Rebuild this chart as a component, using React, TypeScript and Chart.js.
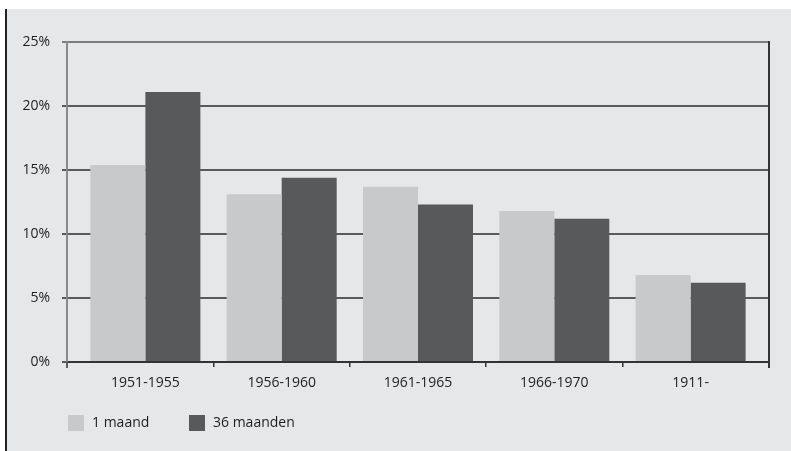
import React, { useEffect, useRef } from "react";
import { Chart, registerables } from "chart.js";

Chart.register(...registerables);

const categories = ["1951-1955", "1956-1960", "1961-1965", "1966-1970", "1911-"];
const series1Name = "1 maand";
const series2Name = "36 maanden";
const series1 = [15.4, 13.1, 13.7, 11.8, 6.8];
const series2 = [21.1, 14.4, 12.3, 11.2, 6.2];
const yTicks = [0, 5, 10, 15, 20, 25];

const LIGHT = "#c8c9cb";
const DARK = "#58595b";
const BG = "#e6e7e8";
const FONT = "'Open Sans', 'Noto Sans', sans-serif";
const EDGE = 0.075; // extra category padding at both ends of the x axis

const framePlugin = {
  id: "frame",
  beforeDraw(chart: any) {
    const ctx = chart.ctx;
    ctx.save();
    ctx.fillStyle = "#ffffff";
    ctx.fillRect(0, 0, chart.width, chart.height);
    ctx.fillStyle = BG;
    ctx.fillRect(7, 9, chart.width - 7, chart.height - 9);
    ctx.fillStyle = "#222222";
    ctx.fillRect(5, 9, 2, chart.height - 9);
    ctx.restore();
  },
  afterDraw(chart: any) {
    const ctx = chart.ctx;
    const a = chart.chartArea;
    ctx.save();
    ctx.strokeStyle = "#333333";
    ctx.lineWidth = 2;
    ctx.beginPath();
    ctx.moveTo(a.right, a.top - 1);
    ctx.lineTo(a.right, a.bottom + 6);
    ctx.stroke();
    ctx.lineWidth = 1.5;
    ctx.beginPath();
    ctx.moveTo(a.left, a.bottom);
    ctx.lineTo(a.left, a.bottom + 6);
    ctx.stroke();
    // legend
    const items = [
      { label: series1Name, color: LIGHT, x: 68 },
      { label: series2Name, color: DARK, x: 189 },
    ];
    ctx.font = `14px ${FONT}`;
    ctx.textBaseline = "middle";
    ctx.textAlign = "left";
    for (const it of items) {
      ctx.fillStyle = it.color;
      ctx.fillRect(it.x, 415, 16, 16);
      ctx.fillStyle = "#1e1e1e";
      ctx.fillText(it.label, it.x + 24, 423);
    }
    ctx.restore();
  },
};

export default function App() {
  const ref = useRef<HTMLCanvasElement>(null);
  useEffect(() => {
    document.body.style.margin = "0";
    const chart = new Chart(ref.current!, {
      type: "bar",
      data: {
        labels: categories,
        datasets: [
          { label: series1Name, data: series1, backgroundColor: LIGHT, categoryPercentage: 0.807, barPercentage: 1.0 },
          { label: series2Name, data: series2, backgroundColor: DARK, categoryPercentage: 0.807, barPercentage: 1.0 },
        ],
      },
      options: {
        animation: false,
        responsive: false,
        maintainAspectRatio: false,
        layout: { padding: { left: 7, right: 22, top: 42, bottom: 49 } },
        plugins: { legend: { display: false }, tooltip: { enabled: false } },
        scales: {
          x: {
            afterFit: (s: any) => { s.height = 40; },
            afterBuildTicks: (s: any) => {
              s._startValue = -0.5 - EDGE;
              s._valueRange = categories.length + 2 * EDGE;
            },
            grid: {
              drawOnChartArea: false,
              drawTicks: true,
              tickLength: 5,
              color: (c: any) =>
                c.type === "tick" && c.index > 0 && c.index < categories.length ? "#333333" : "rgba(0,0,0,0)",
              lineWidth: 1.5,
              offset: true,
            },
            border: { display: true, color: "#333333", width: 2 },
            ticks: { color: "#1e1e1e", font: { family: FONT, size: 14 }, padding: 8 },
          },
          y: {
            min: 0,
            max: 25,
            afterFit: (s: any) => { s.width = 60; },
            afterBuildTicks: (s: any) => { s.ticks = yTicks.map((v) => ({ value: v })); },
            grid: {
              color: (c: any) => (c.tick && c.tick.value === 25 ? "#7d7d7d" : "#5a5a5a"),
              lineWidth: 2,
              tickLength: 5,
            },
            border: { display: true, color: "#8a8a8a", width: 2 },
            ticks: {
              color: "#1e1e1e",
              font: { family: FONT, size: 14 },
              padding: 12,
              callback: (v: any) => `${v}%`,
            },
          },
        },
      },
      plugins: [framePlugin],
    });
    return () => chart.destroy();
  }, []);
  return (
    <div style={{ position: "absolute", left: 0, top: 0, width: 791, height: 451 }}>
      <canvas ref={ref} width={791} height={451} style={{ width: 791, height: 451 }} />
    </div>
  );
}
